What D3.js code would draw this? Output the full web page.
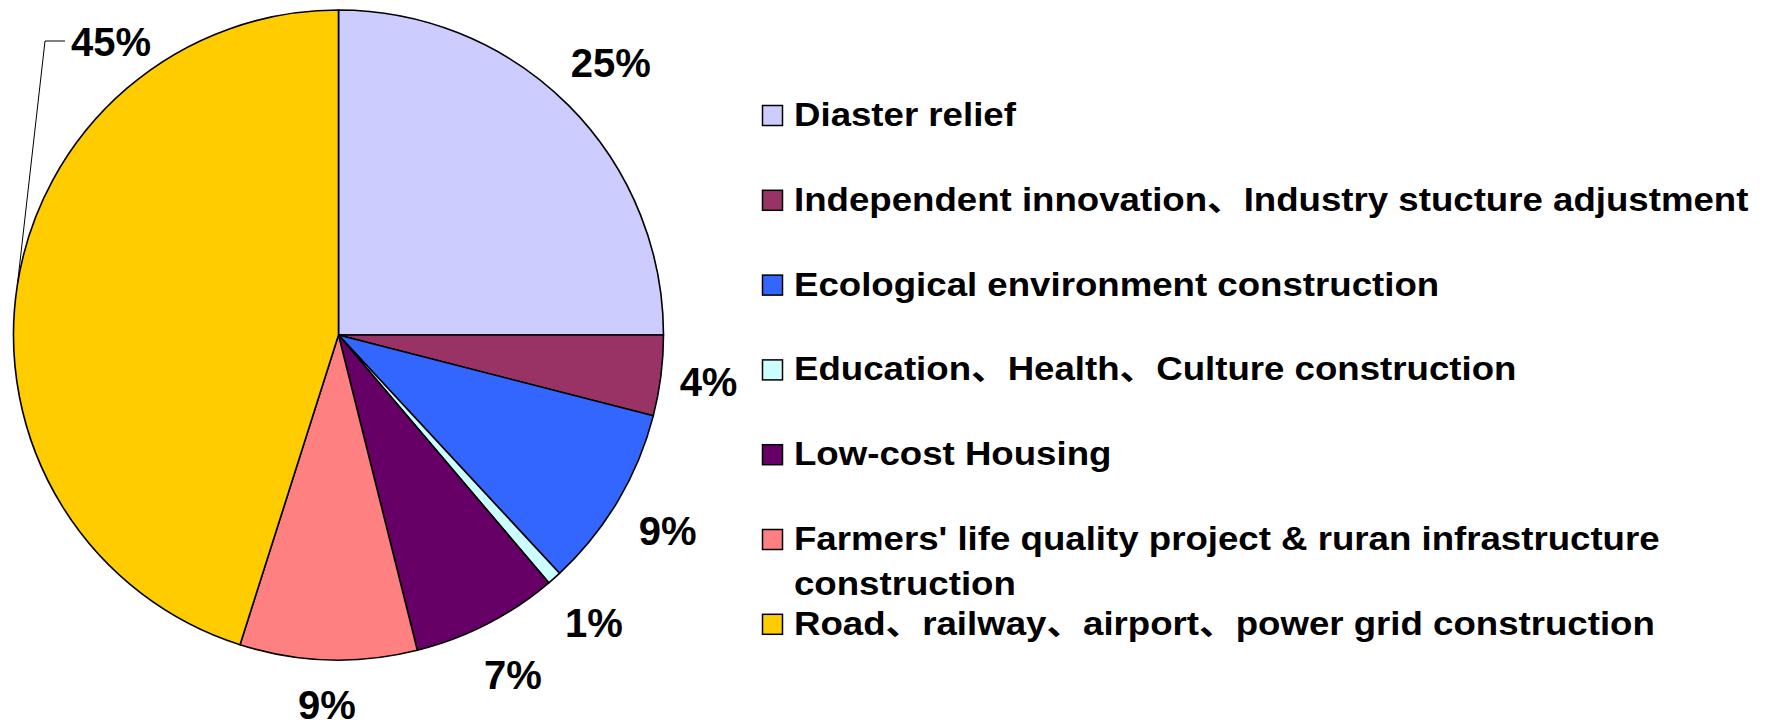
<!DOCTYPE html>
<html>
<head>
<meta charset="utf-8">
<script src="https://cdn.jsdelivr.net/npm/d3@7"></script>
<style>
  body { margin: 0; background: #fff; }
  svg { display: block; }
  text { font-family: "Liberation Sans", Arial, "Noto Sans CJK SC", sans-serif; font-weight: bold; fill: #000; }
</style>
</head>
<body>
<svg id="chart" width="1769" height="725"></svg>
<script>
const categories = [
  "Diaster relief",
  "Independent innovation、Industry stucture adjustment",
  "Ecological environment construction",
  "Education、Health、Culture construction",
  "Low-cost Housing",
  "Farmers' life quality project & ruran infrastructure construction",
  "Road、railway、airport、power grid construction"
];
const values = [25.0, 4.0, 9.1, 0.7, 7.3, 8.8, 45.1];
const colors = ["#CCCCFF", "#993366", "#3366FF", "#CCFFFF", "#660066", "#FF8080", "#FFCC00"];

const width = 1769, height = 725;
const cx = 338.5, cy = 335, radius = 325;

const svg = d3.select("#chart");
const total = d3.sum(values);
const pct = d3.format(".0%");

const pie = d3.pie().sort(null).value(d => d);
const arcs = pie(values);
const arc = d3.arc().innerRadius(0).outerRadius(radius);
const edgeArc = d3.arc().innerRadius(radius).outerRadius(radius);

const g = svg.append("g").attr("transform", `translate(${cx},${cy})`);

g.selectAll("path.slice")
  .data(arcs)
  .enter()
  .append("path")
  .attr("class", "slice")
  .attr("d", arc)
  .attr("fill", (d, i) => colors[i])
  .attr("stroke", "#000")
  .attr("stroke-width", 1.6)
  .attr("stroke-linejoin", "round");

// label distance grows a bit on the diagonals (text box corners)
function labelPos(d) {
  const a = (d.startAngle + d.endAngle) / 2;
  const r = 369 + 16 * Math.abs(Math.sin(2 * a));
  return [r * Math.sin(a), -r * Math.cos(a)];
}

// the big slice's label sits up in the corner with a leader line
const bigIdx = values.indexOf(d3.max(values));
const elbow = [45 - cx, 41 - cy];

arcs.forEach((d, i) => {
  const txt = pct(d.data / total);
  if (i === bigIdx) {
    const p = edgeArc.centroid(d);
    g.append("path")
      .attr("d", `M${p[0]},${p[1]}L${elbow[0]},${elbow[1]}L${elbow[0] + 20},${elbow[1]}`)
      .attr("fill", "none")
      .attr("stroke", "#000")
      .attr("stroke-width", 1);
    g.append("text")
      .attr("x", elbow[0] + 26)
      .attr("y", elbow[1])
      .attr("dy", "0.37em")
      .attr("font-size", 40)
      .text(txt);
  } else {
    const [x, y] = labelPos(d);
    g.append("text")
      .attr("x", x)
      .attr("y", y)
      .attr("dy", "0.35em")
      .attr("text-anchor", "middle")
      .attr("font-size", 40)
      .text(txt);
  }
});

// legend
const legendX = 762, legendTop = 126, rowStep = 84.8, box = 21;
const fontSize = 33, stretch = 1.11, maxText = 960;

const legend = svg.append("g");
categories.forEach((name, i) => {
  const item = legend.append("g")
    .attr("transform", `translate(${legendX},${legendTop + i * rowStep})`);

  item.append("rect")
    .attr("x", 0.5)
    .attr("y", -box + 0.5)
    .attr("width", box - 1)
    .attr("height", box - 1)
    .attr("fill", colors[i])
    .attr("stroke", "#000")
    .attr("stroke-width", 1.5);

  const t = item.append("text")
    .attr("transform", `translate(32,0) scale(${stretch},1)`)
    .attr("font-size", fontSize);

  // wrap long names onto a second line
  const words = name.split(" ");
  let line = [], lineNo = 0;
  let tspan = t.append("tspan").attr("x", 0).attr("y", 0);
  words.forEach(w => {
    line.push(w);
    tspan.text(line.join(" "));
    if (tspan.node().getComputedTextLength() * stretch > maxText && line.length > 1) {
      line.pop();
      tspan.text(line.join(" "));
      line = [w];
      lineNo++;
      tspan = t.append("tspan").attr("x", 0).attr("y", lineNo * 45).text(w);
    }
  });
});
</script>
</body>
</html>
